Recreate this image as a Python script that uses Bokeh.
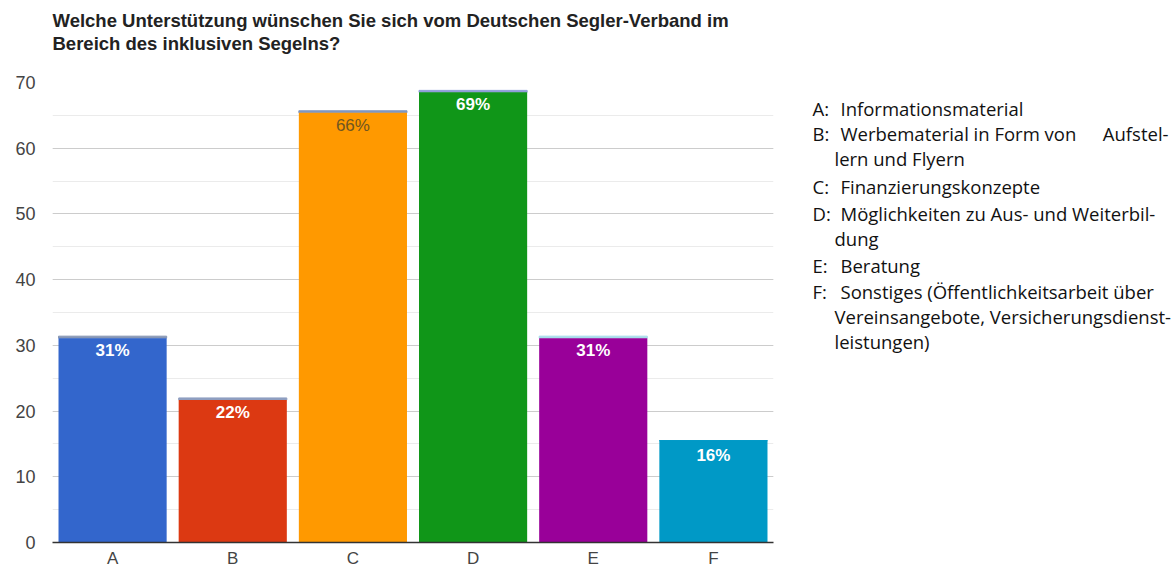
from bokeh.plotting import figure
from bokeh.models import ColumnDataSource, Range1d, FactorRange, SingleIntervalTicker
from bokeh.layouts import column, row
from bokeh.core.properties import value
from bokeh.embed import file_html
from bokeh.resources import INLINE

# ---- data ----
categories = ["A", "B", "C", "D", "E", "F"]
values = [31.1, 21.7, 65.4, 68.5, 31.1, 15.5]
strip = [0.3, 0.3, 0.3, 0.3, 0.3, 0.0]
pct_labels = ["31%", "22%", "66%", "69%", "31%", "16%"]
bar_colors = ["#3366cc", "#dc3912", "#ff9900", "#109618", "#990099", "#0099c6"]
strip_colors = ["#8797b4", "#8f9fc0", "#7f97c0", "#8f9fd8", "#a8dcea", "#0099c6"]
label_colors = ["#ffffff", "#ffffff", "#6f5620", "#ffffff", "#ffffff", "#ffffff"]
label_styles = ["bold", "bold", "normal", "bold", "bold", "bold"]
title_lines = ["Welche Unterstützung wünschen Sie sich vom Deutschen Segler-Verband im",
               "Bereich des inklusiven Segelns?"]
legend_keys = ["A:", "B:", "", "C:", "D:", "", "E:", "F:", "", ""]
legend_lines = [
    "Informationsmaterial",
    "Werbematerial in Form von",
    "lern und Flyern",
    "Finanzierungskonzepte",
    "Möglichkeiten zu Aus- und Weiterbil-",
    "dung",
    "Beratung",
    "Sonstiges (Öffentlichkeitsarbeit über",
    "Vereinsangebote, Versicherungsdienst-",
    "leistungen)",
]
legend_row_y = [108, 133, 158, 186, 213, 238, 265, 291, 316, 341]
legend_extra = "Aufstel-"

# ---- layout constants (page pixels) ----
TW, TH = 1174, 70
FRAME_TOP, FRAME_BOTTOM = 82, 542.5
PH = 500

# ---- title strip ----
tf = figure(width=TW, height=TH, x_range=Range1d(0, TW), y_range=Range1d(TH, 0),
            output_backend="svg", toolbar_location=None, min_border=0)
tf.axis.visible = False
tf.grid.visible = False
tf.outline_line_color = None
tsrc = ColumnDataSource(dict(x=[52, 52], y=[20, 43], t=title_lines))
tf.text(x="x", y="y", text="t", source=tsrc, text_font=value("Liberation Sans"),
        text_font_size="18.5px", text_font_style="bold", text_color="#222222",
        text_baseline="middle", text_align="left")

# ---- main chart ----
src = ColumnDataSource(dict(cat=categories, val=values, top2=[v + s for v, s in zip(values, strip)],
                            col=bar_colors, scol=strip_colors, lab=pct_labels,
                            lcol=label_colors, lsty=label_styles))

p = figure(width=780, height=PH, x_range=FactorRange(*categories, range_padding=0),
           y_range=Range1d(0, 70), output_backend="svg", toolbar_location=None,
           min_border_left=52, min_border_right=7, min_border_top=FRAME_TOP - TH,
           min_border_bottom=int(TH + PH - FRAME_BOTTOM))
p.outline_line_color = None

p.vbar(x="cat", top="top2", bottom="val", width=0.9, color="scol", source=src)
p.vbar(x="cat", top="val", bottom=0, width=0.9, fill_color="col", line_color=None, source=src)
p.text(x="cat", y="top2", text="lab", text_color="lcol", text_font_style="lsty",
       text_font=value("Liberation Sans"), text_font_size="17px", text_align="center",
       text_baseline="top", y_offset=5, source=src)

p.yaxis.ticker = SingleIntervalTicker(interval=10, num_minor_ticks=2)
p.yaxis.axis_line_color = None
p.yaxis.major_tick_line_color = None
p.yaxis.minor_tick_line_color = None
p.yaxis.major_tick_out = 0
p.yaxis.minor_tick_out = 0
p.yaxis.major_label_standoff = 17
p.yaxis.major_label_text_font = "Liberation Sans"
p.yaxis.major_label_text_font_size = "18px"
p.yaxis.major_label_text_color = "#444444"

p.xaxis.axis_line_color = "#333333"
p.xaxis.axis_line_width = 1.5
p.xaxis.major_tick_line_color = None
p.xaxis.minor_tick_line_color = None
p.xaxis.major_tick_out = 0
p.xaxis.minor_tick_out = 0
p.xaxis.major_label_standoff = 6
p.xaxis.major_label_text_font = "Liberation Sans"
p.xaxis.major_label_text_font_size = "17px"
p.xaxis.major_label_text_color = "#444444"

p.xgrid.grid_line_color = None
p.ygrid.grid_line_color = "#cccccc"
p.ygrid.minor_grid_line_color = "#ebebeb"

# ---- legend panel (its frame is aligned with the chart frame by the row layout) ----
LW = TW - 780
lf = figure(width=LW, height=PH, x_range=Range1d(0, LW), y_range=Range1d(FRAME_BOTTOM, FRAME_TOP),
            output_backend="svg", toolbar_location=None, min_border=0)
lf.axis.visible = False
lf.grid.visible = False
lf.outline_line_color = None
ksrc = ColumnDataSource(dict(x=[32] * len(legend_keys), y=legend_row_y, t=legend_keys))
lf.text(x="x", y="y", text="t", source=ksrc, text_font=value("Open Sans"),
        text_font_size="18.5px", text_color="#111111", text_baseline="middle")
lsrc = ColumnDataSource(dict(x=[60 if k else 54 for k in legend_keys], y=legend_row_y,
                             t=legend_lines))
lf.text(x="x", y="y", text="t", source=lsrc, text_font=value("Open Sans"),
        text_font_size="18.5px", text_color="#111111", text_baseline="middle")
esrc = ColumnDataSource(dict(x=[LW - 6], y=[legend_row_y[1]], t=[legend_extra]))
lf.text(x="x", y="y", text="t", source=esrc, text_font=value("Open Sans"),
        text_font_size="18.5px", text_color="#111111", text_baseline="middle",
        text_align="right")

layout = column(tf, row(p, lf))
open("out.html", "w").write(file_html(layout, INLINE))
